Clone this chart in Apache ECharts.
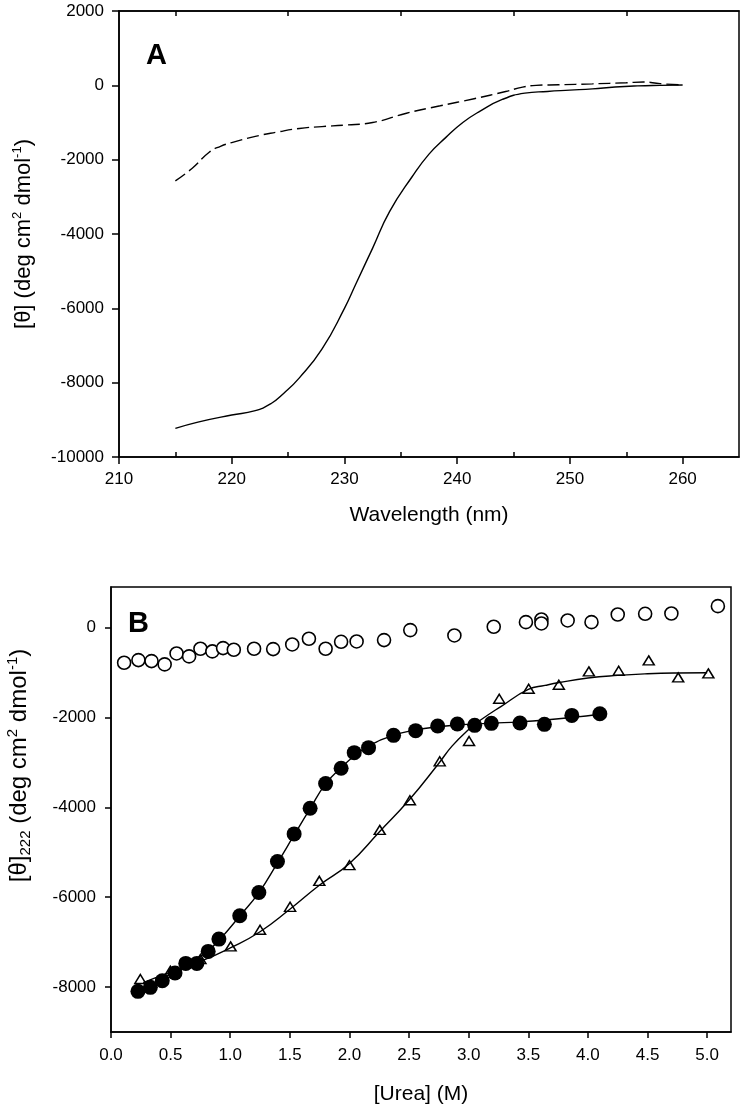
<!DOCTYPE html>
<html><head><meta charset="utf-8">
<script src="https://cdn.jsdelivr.net/npm/echarts@6/dist/echarts.min.js"></script>
<style>html,body{margin:0;padding:0;background:#fff}#c{width:744px;height:1111px}</style>
</head><body><div id="c"></div><script>
// ---------- Panel A data (CD spectra) ----------
const solidWl    = [215,217,220,222,223.5,224.6,226,228,230,231,232.5,234,236,237.5,239,240.5,242,244,246,248,250,252,254,256,258,260];
const solidTheta = [-9230,-9060,-8870,-8760,-8560,-8290,-7870,-7100,-6000,-5350,-4380,-3400,-2460,-1850,-1400,-1000,-700,-380,-210,-165,-130,-95,-45,-15,0,10];
const dashWl     = [215,216.5,218,219,220,222,224,226,228,230,232.5,235.5,238.5,241.5,244.3,245.8,247,249,252,255,256.5,258,260];
const dashTheta  = [-2570,-2230,-1800,-1640,-1540,-1380,-1260,-1160,-1110,-1070,-1000,-750,-550,-360,-166,-48,0,15,40,70,90,45,10];
const aXTicks = [210,220,230,240,250,260];
const aXMinorTicks = [215,225,235,245,255];
const aYTicks = [-10000,-8000,-6000,-4000,-2000,0,2000];

// ---------- Panel B data (urea denaturation) ----------
const openUrea  = [0.11,0.23,0.34,0.45,0.55,0.655,0.75,0.85,0.94,1.03,1.2,1.36,1.52,1.66,1.8,1.93,2.06,2.29,2.51,2.88,3.21,3.48,3.61,3.61,3.83,4.03,4.25,4.48,4.70,5.09];
const openTheta = [-785,-726,-748,-822,-578,-644,-474,-533,-459,-496,-474,-481,-378,-252,-474,-319,-311,-281,-59,-178,15,118,178,89,156,118,289,304,311,474];
const fillUrea  = [0.226,0.33,0.43,0.537,0.627,0.72,0.815,0.905,1.08,1.24,1.396,1.536,1.67,1.80,1.93,2.04,2.16,2.37,2.555,2.74,2.905,3.05,3.19,3.43,3.635,3.865,4.10];
const fillTheta = [-8096,-8007,-7860,-7689,-7474,-7474,-7207,-6933,-6415,-5896,-5207,-4593,-4022,-3474,-3133,-2785,-2674,-2400,-2296,-2193,-2148,-2178,-2133,-2126,-2156,-1956,-1919];
const triUrea   = [0.246,0.498,0.75,1.003,1.25,1.502,1.747,2.0,2.254,2.507,2.757,3.003,3.256,3.503,3.756,4.008,4.258,4.51,4.757,5.01];
const triTheta  = [-7822,-7637,-7378,-7096,-6726,-6215,-5637,-5289,-4504,-3844,-2978,-2526,-1585,-1363,-1274,-978,-963,-733,-1111,-1022];
const fillFitUrea  = [0.23,0.33,0.43,0.54,0.63,0.72,0.82,0.91,1.08,1.24,1.40,1.54,1.67,1.80,1.93,2.04,2.16,2.37,2.56,2.74,2.9,3.05,3.19,3.43,3.64,3.87,4.10];
const fillFitTheta = [-8070,-7990,-7870,-7700,-7530,-7370,-7180,-6950,-6420,-5900,-5220,-4600,-4030,-3480,-3120,-2860,-2640,-2400,-2280,-2210,-2170,-2150,-2130,-2100,-2060,-2000,-1930];
const triFitUrea   = [0.27,0.5,0.75,1.0,1.25,1.5,1.75,2.0,2.25,2.5,2.75,2.86,3.0,3.1,3.27,3.5,3.64,3.76,4.0,4.25,4.5,4.75,5.0];
const triFitTheta  = [-7900,-7670,-7430,-7130,-6770,-6270,-5730,-5250,-4550,-3840,-3020,-2640,-2270,-2060,-1760,-1380,-1290,-1225,-1126,-1067,-1030,-1012,-1007];
const bXTicks = [0,0.5,1,1.5,2,2.5,3,3.5,4,4.5,5];
const bYTicks = [-8000,-6000,-4000,-2000,0];

const zip = (a, b) => a.map((v, i) => [v, b[i]]);
const FONT = 'Liberation Sans, Arial, sans-serif';
const lineStyleAxis = { color: '#000', width: 1.5 };
const labelBase = { color: '#000', fontFamily: FONT, fontSize: 17 };
const noZeroLine = { onZero: false, lineStyle: lineStyleAxis };

const chart = echarts.init(document.getElementById('c'), null, { renderer: 'canvas' });
chart.setOption({
  backgroundColor: '#fff',
  animation: false,
  title: [
    { text: 'A', left: 146, top: 41, padding: 0, textStyle: { fontFamily: FONT, fontSize: 29, fontWeight: 'bold', color: '#000' } },
    { text: 'B', left: 128, top: 609, padding: 0, textStyle: { fontFamily: FONT, fontSize: 29, fontWeight: 'bold', color: '#000' } }
  ],
  grid: [
    { left: 119, top: 11, right: 5, bottom: 654, show: true, borderColor: '#000', borderWidth: 1.5, outerBoundsMode: 'none', containLabel: false },
    { left: 119, top: 11, right: 5, bottom: 654, outerBoundsMode: 'none', containLabel: false },
    { left: 111, top: 587, right: 13, bottom: 79, show: true, borderColor: '#000', borderWidth: 1.5, outerBoundsMode: 'none', containLabel: false }
  ],
  xAxis: [
    { gridIndex: 0, type: 'value', min: 210, max: 265, interval: 10, position: 'bottom',
      name: 'Wavelength (nm)', nameLocation: 'middle', nameGap: 48,
      nameTextStyle: { color: '#000', fontFamily: FONT, fontSize: 21 },
      axisLine: noZeroLine,
      axisTick: { length: 7, lineStyle: lineStyleAxis, customValues: aXTicks },
      axisLabel: Object.assign({ margin: 14, customValues: aXTicks, formatter: v => String(v) }, labelBase),
      splitLine: { show: false } },
    { gridIndex: 0, type: 'value', min: 210, max: 265, position: 'top',
      axisLine: noZeroLine,
      axisTick: { inside: true, length: 5, lineStyle: lineStyleAxis, customValues: aXMinorTicks },
      axisLabel: { show: false }, splitLine: { show: false } },
    { gridIndex: 1, type: 'value', min: 210, max: 265, position: 'bottom',
      axisLine: { show: false, onZero: false },
      axisTick: { inside: true, length: 5, lineStyle: lineStyleAxis, customValues: aXMinorTicks },
      axisLabel: { show: false }, splitLine: { show: false } },
    { gridIndex: 2, type: 'value', min: 0, max: 5.2, interval: 0.5, position: 'bottom',
      name: '[Urea] (M)', nameLocation: 'middle', nameGap: 52,
      nameTextStyle: { color: '#000', fontFamily: FONT, fontSize: 21 },
      axisLine: noZeroLine,
      axisTick: { length: 6, lineStyle: lineStyleAxis, customValues: bXTicks },
      axisLabel: Object.assign({ margin: 15, customValues: bXTicks, formatter: v => Number(v).toFixed(1) }, labelBase),
      splitLine: { show: false } }
  ],
  yAxis: [
    { gridIndex: 0, type: 'value', min: -10000, max: 2000, interval: 2000,
      name: '[θ] (deg cm{sup|2} dmol{sup|-1})', nameLocation: 'middle', nameGap: 82, nameRotate: 90,
      nameTextStyle: { color: '#000', fontFamily: FONT, fontSize: 22,
        rich: { sup: { fontSize: 13, fontFamily: FONT, color: '#000', verticalAlign: 'top', lineHeight: 26 } } },
      axisLine: noZeroLine,
      axisTick: { length: 7, lineStyle: lineStyleAxis, customValues: aYTicks },
      axisLabel: Object.assign({ margin: 15, customValues: aYTicks, formatter: v => String(v) }, labelBase),
      splitLine: { show: false } },
    { gridIndex: 1, type: 'value', min: -10000, max: 2000, show: false },
    { gridIndex: 2, type: 'value', min: -9000, max: 900,
      name: '[θ]{sub|222} (deg cm{sup|2} dmol{sup|-1})', nameLocation: 'middle', nameGap: 78, nameRotate: 90,
      nameTextStyle: { color: '#000', fontFamily: FONT, fontSize: 24, padding: [0, 0, 0, 88],
        rich: { sup: { fontSize: 15, fontFamily: FONT, color: '#000', verticalAlign: 'top', lineHeight: 28 },
                sub: { fontSize: 15, fontFamily: FONT, color: '#000', verticalAlign: 'bottom', lineHeight: 28 } } },
      axisLine: noZeroLine,
      axisTick: { length: 6, lineStyle: lineStyleAxis, customValues: bYTicks },
      axisLabel: Object.assign({ margin: 15, customValues: bYTicks, formatter: v => String(v) }, labelBase),
      splitLine: { show: false } }
  ],
  series: [
    { type: 'line', xAxisIndex: 0, yAxisIndex: 0, data: zip(solidWl, solidTheta), smooth: 0.5, showSymbol: false,
      lineStyle: { color: '#000', width: 1.4 } },
    { type: 'line', xAxisIndex: 0, yAxisIndex: 0, data: zip(dashWl, dashTheta), smooth: 0.5, showSymbol: false,
      lineStyle: { color: '#000', width: 1.4, type: [12, 5] } },
    { type: 'line', xAxisIndex: 3, yAxisIndex: 2, data: zip(triFitUrea, triFitTheta), smooth: 0.5, showSymbol: false,
      lineStyle: { color: '#000', width: 1.4 } },
    { type: 'line', xAxisIndex: 3, yAxisIndex: 2, data: zip(fillFitUrea, fillFitTheta), smooth: 0.5, showSymbol: false,
      lineStyle: { color: '#000', width: 1.4 } },
    { type: 'scatter', xAxisIndex: 3, yAxisIndex: 2, data: zip(openUrea, openTheta), symbol: 'circle', symbolSize: 13,
      itemStyle: { color: '#fff', borderColor: '#000', borderWidth: 1.6, opacity: 1 } },
    { type: 'scatter', xAxisIndex: 3, yAxisIndex: 2, data: zip(triUrea, triTheta), symbol: 'triangle', symbolSize: [11, 9],
      itemStyle: { color: '#fff', borderColor: '#000', borderWidth: 1.5, opacity: 1 } },
    { type: 'scatter', xAxisIndex: 3, yAxisIndex: 2, data: zip(fillUrea, fillTheta), symbol: 'circle', symbolSize: 15,
      itemStyle: { color: '#000', opacity: 1 } }
  ]
});
</script></body></html>
